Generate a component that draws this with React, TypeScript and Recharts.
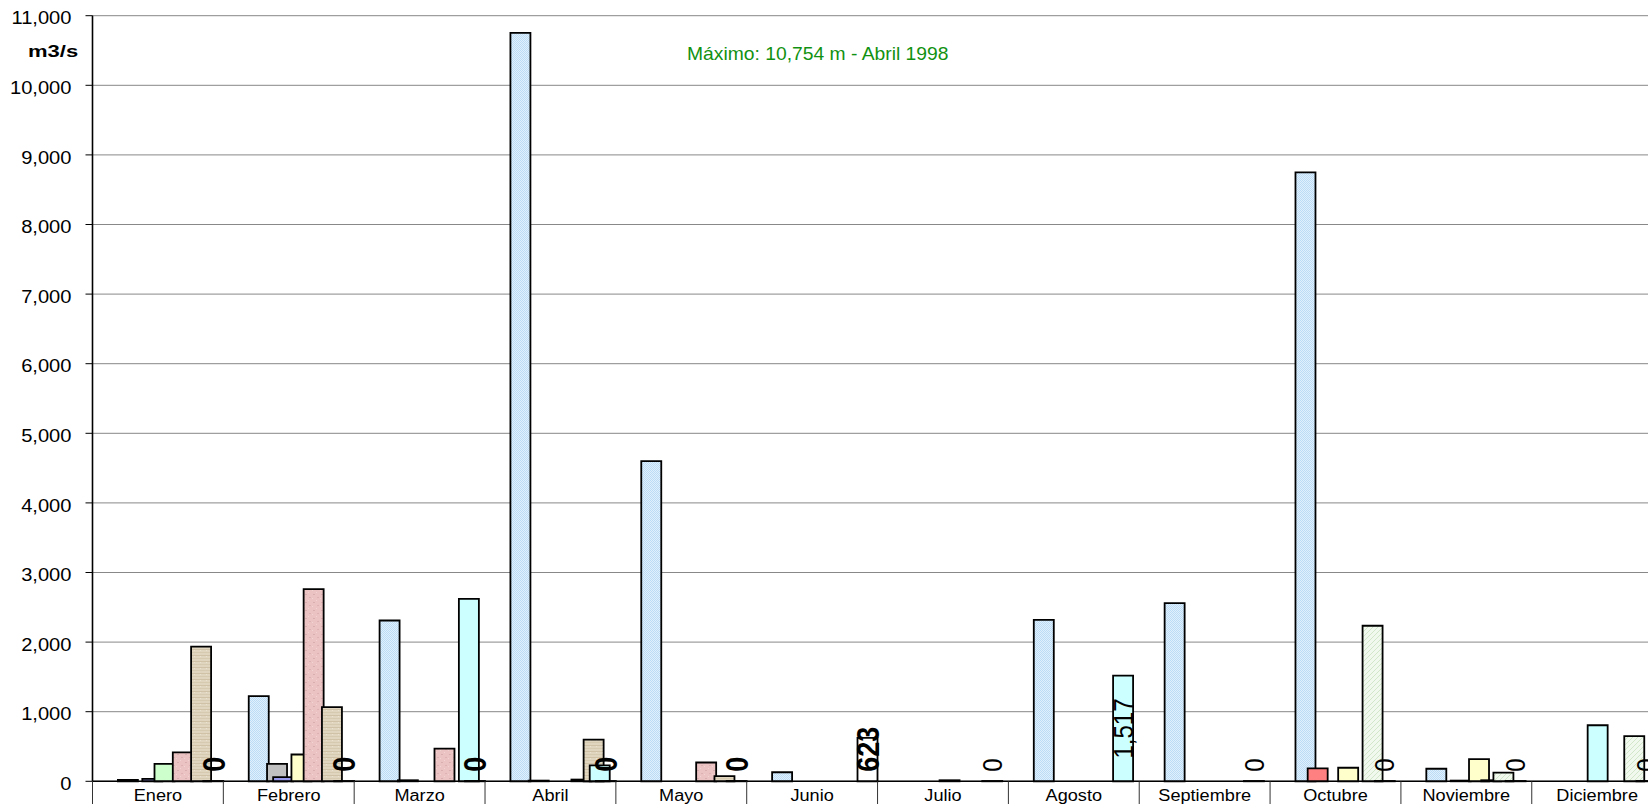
import React from "react";
import { BarChart, Bar, XAxis, YAxis, CartesianGrid, LabelList } from "recharts";

// ---------- data ----------
const months = ["Enero", "Febrero", "Marzo", "Abril", "Mayo", "Junio", "Julio", "Agosto", "Septiembre", "Octubre", "Noviembre", "Diciembre"];
const yTicks = [0, 1000, 2000, 3000, 4000, 5000, 6000, 7000, 8000, 9000, 10000, 11000];

const s1994 = [null, null, null, null, null, null, null, null, null, null, null, null];
const s1995 = [null, null, null, null, null, null, null, null, null, null, null, null];
const s1996 = [null, null, null, null, null, null, null, null, null, null, null, null];
const s1997 = [null, null, null, null, null, null, null, null, null, null, null, null];
const s1998 = [20, 1225, 2310, 10754, 4600, 130, null, 2320, 2560, 8750, 180, null];
const s1999 = [null, null, null, null, null, null, null, null, null, null, null, null];
const s2000 = [null, null, null, null, null, null, null, null, null, 185, null, null];
const s2001 = [null, 250, 15, 10, null, null, null, null, null, null, null, null];
const s2002 = [35, 60, null, null, null, null, null, null, null, null, 10, null];
const s2003 = [null, null, null, null, null, null, null, null, null, null, null, 805];
const s2004 = [250, null, null, null, null, null, 15, null, null, null, null, null];
const s2005 = [null, 385, null, null, null, null, null, null, null, 195, 320, null];
const s2006 = [null, null, null, null, null, null, null, null, null, null, null, null];
const s2007 = [415, 2760, 470, null, 270, null, null, null, null, null, 15, null];
const s2008 = [null, null, null, 25, null, null, null, null, null, null, null, null];
const s2009 = [null, null, null, null, null, null, null, null, null, 2235, 125, 650];
const s2010 = [1935, 1065, null, 600, 75, null, null, null, null, null, null, null];
const s2011 = [null, null, 2620, 230, null, null, 0, 1517, 0, 0, 0, 0];
const s2012 = [0, 0, 0, 0, 0, 623, null, null, null, null, null, null];

// months whose values carry a data label
const labelled2011 = [false, false, false, false, false, false, true, true, true, true, true, true];
const labelled2012 = [true, true, true, true, true, true, false, false, false, false, false, false];

const series = [
  { key: "s1994", values: s1994, fill: "#cccccc" },
  { key: "s1995", values: s1995, fill: "#cccccc" },
  { key: "s1996", values: s1996, fill: "#cccccc" },
  { key: "s1997", values: s1997, fill: "#cccccc" },
  { key: "s1998", values: s1998, fill: "url(#pBlue)" },
  { key: "s1999", values: s1999, fill: "#cccccc" },
  { key: "s2000", values: s2000, fill: "#ff8080" },
  { key: "s2001", values: s2001, fill: "#c0c0c0" },
  { key: "s2002", values: s2002, fill: "#9999ee" },
  { key: "s2003", values: s2003, fill: "#ccffff" },
  { key: "s2004", values: s2004, fill: "#ccffcc" },
  { key: "s2005", values: s2005, fill: "#ffffcc" },
  { key: "s2006", values: s2006, fill: "#cccccc" },
  { key: "s2007", values: s2007, fill: "url(#pPink)" },
  { key: "s2008", values: s2008, fill: "#cccccc" },
  { key: "s2009", values: s2009, fill: "url(#pGreen)" },
  { key: "s2010", values: s2010, fill: "url(#pTan)" },
  { key: "s2011", values: s2011, fill: "#ccffff" },
  { key: "s2012", values: s2012, fill: "#ffffff" },
];

const data = months.map((m, i) => {
  const row: any = { month: m };
  series.forEach((s) => {
    row[s.key] = s.values[i];
  });
  row.l2011 = labelled2011[i] ? s2011[i] : null;
  row.l2012 = labelled2012[i] ? s2012[i] : null;
  return row;
});

// ---------- layout ----------
const FONT = "'Liberation Sans', Arial, Helvetica, sans-serif";
const CHART_W = 1680;
const CHART_H = 804;
const Y_AXIS_W = 92.5;
const MARGIN = { top: 15.7, right: 17.4, left: 0, bottom: 0 };
const X_AXIS_H = 22.7;
const PLOT_W = CHART_W - MARGIN.left - MARGIN.right - Y_AXIS_W;
const X_TICK_MARGIN = 8;

const fmt = (v: number) => Number(v).toLocaleString("en-US");

const charW = (t: string) => {
  let s = 0;
  for (const c of t) s += c === "," ? 0.278 : 0.556;
  return s;
};

const YTick = (props: any) => {
  const { x, y, payload } = props;
  return (
    <text
      transform={`translate(${x},${y + 2}) scale(1.06,1)`}
      textAnchor="end"
      dy="0.35em"
      fontSize={19}
      fontFamily={FONT}
      fill="#000"
    >
      {fmt(payload.value)}
    </text>
  );
};

const XTick = (props: any) => {
  const { x, y, payload } = props;
  const bw = PLOT_W / months.length;
  const left = x - bw / 2;
  return (
    <g>
      <line x1={left} x2={left} y1={y - X_TICK_MARGIN} y2={y + 40} stroke="#333" strokeWidth={1} />
      <text
        transform={`translate(${x},${y}) scale(1.12,1)`}
        textAnchor="middle"
        dy="0.72em"
        fontSize={16.2}
        fontFamily={FONT}
        fill="#000"
      >
        {payload.value}
      </text>
    </g>
  );
};

const makeLabel = (bold: boolean, fontSize: number) => (props: any) => {
  const vb = props.viewBox || {};
  const x = vb.x ?? props.x;
  const y = vb.y ?? props.y;
  const width = vb.width ?? props.width;
  const height = vb.height ?? props.height;
  const { value } = props;
  if (value == null || x == null || y == null) return null;
  const text = fmt(value);
  const len = charW(text) * fontSize;
  const base = y + height;
  let cy = y + height / 2;
  cy = Math.min(cy, base - 9.5 - len / 2);
  const cx = x + width / 2;
  return (
    <text
      transform={`translate(${cx},${cy}) scale(1.17,1) rotate(-90)`}
      textAnchor="middle"
      dominantBaseline="central"
      fontSize={fontSize}
      fontWeight={bold ? "bold" : "normal"}
      fontFamily={FONT}
      fill="#000"
    >
      {text}
    </text>
  );
};

const zeroMin = (v: any) => (v === 0 ? 0.3 : 0);

export default function App() {
  return (
    <div style={{ position: "absolute", left: 0, top: 0, width: 1648, height: 804, overflow: "hidden", background: "#fff" }}>
      <BarChart
        width={CHART_W}
        height={CHART_H}
        data={data}
        margin={MARGIN}
        barSize={20}
        barGap={-13.9}
        barCategoryGap={0}
      >
        <defs>
          <pattern id="pBlue" width="2" height="2" patternUnits="userSpaceOnUse">
            <rect width="2" height="2" fill="#e0f0fc" />
            <rect x="0" y="0" width="1" height="1" fill="#bcdcf5" />
            <rect x="1" y="1" width="1" height="1" fill="#bcdcf5" />
          </pattern>
          <pattern id="pPink" width="8" height="8" patternUnits="userSpaceOnUse">
            <rect width="8" height="8" fill="#ebc3c3" />
            <rect x="1" y="2" width="2" height="1" fill="#d9aeae" />
            <rect x="5" y="5" width="2" height="1" fill="#dcb2b2" />
            <rect x="4" y="0" width="1" height="1" fill="#f2d4d4" />
            <rect x="0" y="6" width="1" height="1" fill="#f2d4d4" />
          </pattern>
          <pattern id="pTan" width="6" height="6" patternUnits="userSpaceOnUse">
            <rect width="6" height="6" fill="#e0d6c0" />
            <rect x="0" y="1" width="6" height="1" fill="#cfc2a6" />
            <rect x="0" y="4" width="6" height="1" fill="#d6cab0" />
            <rect x="2" y="2" width="1" height="1" fill="#ebe3d2" />
          </pattern>
          <pattern id="pGreen" width="5" height="5" patternUnits="userSpaceOnUse">
            <rect width="5" height="5" fill="#f1f8ee" />
            <path d="M0,5 L5,0" stroke="#d2e7ca" strokeWidth="1" />
          </pattern>
        </defs>
        <CartesianGrid horizontal vertical={false} stroke="#111" strokeDasharray="1 1" />
        <XAxis
          dataKey="month"
          height={X_AXIS_H}
          axisLine={{ stroke: "#000", strokeWidth: 1.6 }}
          tickLine={false}
          tickSize={0}
          tickMargin={X_TICK_MARGIN}
          tick={<XTick />}
          interval={0}
        />
        <YAxis
          width={Y_AXIS_W}
          domain={[0, 11000]}
          ticks={yTicks}
          interval={0}
          axisLine={{ stroke: "#000", strokeWidth: 1.6 }}
          tickLine={{ stroke: "#000", strokeWidth: 1 }}
          tickSize={7}
          tickMargin={14}
          tick={<YTick />}
        />
        {series.map((s) => (
          <Bar
            key={s.key}
            dataKey={s.key}
            fill={s.fill}
            stroke="#000"
            strokeWidth={1.8}
            minPointSize={s.key === "s2011" || s.key === "s2012" ? zeroMin : 0}
            isAnimationActive={false}
          >
            {s.key === "s2011" && <LabelList dataKey="l2011" content={makeLabel(false, 24)} />}
            {s.key === "s2012" && <LabelList dataKey="l2012" content={makeLabel(true, 27)} />}
          </Bar>
        ))}
      </BarChart>
      <svg width={1648} height={804} style={{ position: "absolute", left: 0, top: 0, pointerEvents: "none" }}>
        <text transform="translate(28,57.3) scale(1.28,1)" fontSize={17.2} fontWeight="bold" fontFamily={FONT} fill="#000">
          m3/s
        </text>
        <text transform="translate(687,59.5) scale(1.09,1)" fontSize={17.7} fontFamily={FONT} fill="#119111">
          Máximo: 10,754 m - Abril 1998
        </text>
      </svg>
    </div>
  );
}
